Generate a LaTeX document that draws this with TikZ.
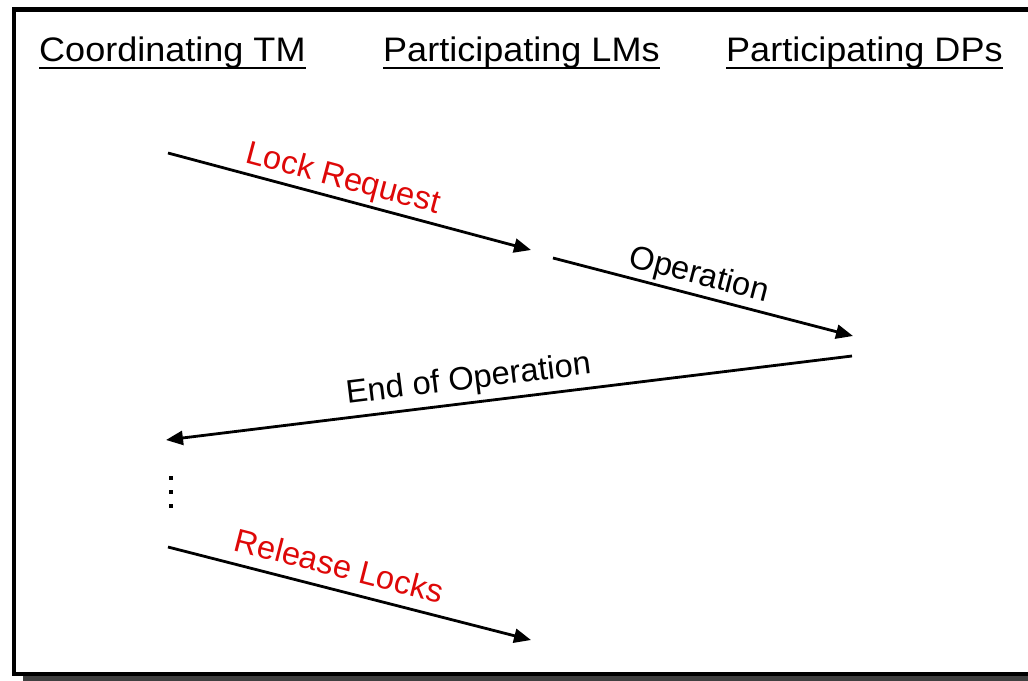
\documentclass[tikz,border=0pt]{standalone}
\usepackage{fontspec}
\setmainfont{Liberation Sans}
\newfontfamily\headfont[FakeStretch=1.06]{Liberation Sans}
\usetikzlibrary{arrows.meta,calc}
\definecolor{lockred}{RGB}{222,8,8}
\definecolor{shadowgray}{RGB}{64,64,64}
\tikzset{
  header/.style={anchor=base west,inner sep=0pt,font=\headfont\fontsize{34}{40}\selectfont},
  msg/.style={line width=2.8pt,-{Triangle[length=17pt,width=14pt]}},
  msglabel/.style={sloped,anchor=base,inner sep=0pt,font=\fontsize{32.6}{38}\selectfont},
  uline/.style={line width=2pt},
  dot/.style={rectangle,fill=black,inner sep=0pt,minimum size=3.4pt}
}
\begin{document}
\begin{tikzpicture}[x=1pt,y=-1pt]
\useasboundingbox (0,0) rectangle (1028,680);
\clip (0,0) rectangle (1028,680);
% drop shadow and frame
\fill[shadowgray] (23,18) rectangle (1045,690);
\draw[line width=4.4pt,fill=white] (14,9.6) rectangle (1040,674);

% column headers
\node[header] (tm) at (39,61) {Coordinating TM};
\node[header] (lm) at (383,61) {Participating LMs};
\node[header] (dp) at (726,61) {Participating DPs};
\foreach \h in {tm,lm,dp}
  \draw[uline] ($(\h.base west)+(0,6.8)$) -- ($(\h.base east)+(0,6.8)$);

% message end points
\coordinate (a1) at (168,153);
\coordinate (b1) at (531,250);
\coordinate (a2) at (553,258);
\coordinate (b2) at (853,336);
\coordinate (a3) at (852,356);
\coordinate (b3) at (166,440);
\coordinate (a4) at (168,547);
\coordinate (b4) at (531,640);

% messages
\draw[msg] (a1) -- node[msglabel,pos=0.468,yshift=11pt,text=lockred] (l1) {Lock Request} (b1);
\draw[msg] (a2) -- node[msglabel,pos=0.47,yshift=11pt] (l2) {Operation} (b2);
\draw[msg] (a3) -- node[msglabel,pos=0.555,yshift=14pt] (l3) {End of Operation} (b3);
\draw[msg] (a4) -- node[msglabel,pos=0.455,yshift=13pt,text=lockred] (l4) {Release Locks} (b4);

% vertical ellipsis
\node[dot] (d1) at (171,478) {};
\node[dot] (d2) at (171,492) {};
\node[dot] (d3) at (171,506) {};
\end{tikzpicture}
\end{document}
